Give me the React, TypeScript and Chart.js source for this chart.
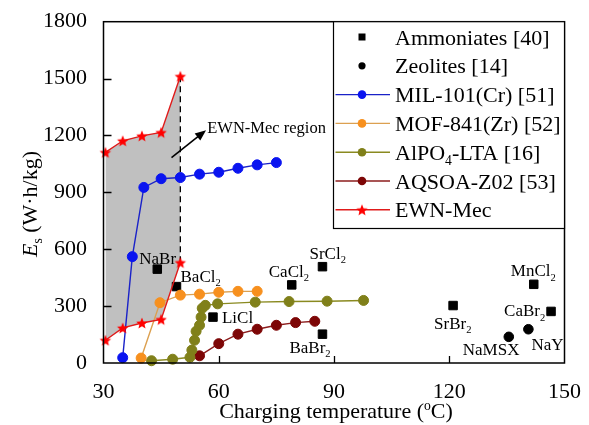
import React, { useEffect, useRef } from 'react';
import { Chart, registerables } from 'chart.js';

Chart.register(...registerables);

// ---- data ----
const xTicks = [30, 60, 90, 120, 150];
const yTicks = [0, 300, 600, 900, 1200, 1500, 1800];

const ammoniaNames = ['NaBr', 'BaCl_2', 'LiCl', 'CaCl_2', 'SrCl_2', 'BaBr_2', 'SrBr_2', 'MnCl_2', 'CaBr_2'];
const ammoniaTemp = [44, 49, 58.5, 79, 87, 87, 121, 142, 146.5];
const ammoniaEs = [495, 403, 242, 412, 508, 152, 303, 415, 272];

const zeoliteNames = ['NaMSX', 'NaY'];
const zeoliteTemp = [135.5, 140.6];
const zeoliteEs = [138, 178];

const milTemp = [35, 37.5, 40.5, 45, 50, 55, 60, 65, 70, 75];
const milEs = [28, 561, 926, 972, 978, 996, 1006, 1027, 1045, 1057];

const mofTemp = [39.8, 44.7, 50, 55, 60, 65, 70];
const mofEs = [26, 318, 358, 363, 373, 378, 378];

const alpoTemp = [42.5, 48, 52.5, 53, 53.7, 54.1, 55, 55.4, 55.7, 56.5, 59.7, 69.5, 78.3, 88.2, 97.7];
const alpoEs = [12, 20, 30, 68, 120, 167, 199, 242, 289, 304, 312, 321, 324, 326, 330];

const aqsoaTemp = [55, 60, 65, 70, 75, 80, 85];
const aqsoaEs = [38, 102, 152, 178, 199, 213, 220];

const ewnTemp = [30.5, 35, 40, 45, 50];
const ewnUpper = [1111, 1172, 1198, 1216, 1512];
const ewnLower = [120, 185, 211, 230, 530];

const legendLabels = [
  'Ammoniates [40]',
  'Zeolites [14]',
  'MIL-101(Cr) [51]',
  'MOF-841(Zr) [52]',
  'AlPO_4-LTA [16]',
  'AQSOA-Z02 [53]',
  'EWN-Mec',
];

const regionNote = 'EWN-Mec region';
const regionArrowFrom = { x: 47.7, y: 1083 };
const regionArrowTo = { x: 56.7, y: 1228 };
const regionNoteAt = { x: 57, y: 1212 };

const xTitle = 'Charging temperature (^oC)';

// ---- styles ----
const FAMILY = '"Liberation Serif", "Times New Roman", Times, serif';
const BLUE_PT = '#0a14f0';
const BLUE_LN = '#1a22c8';
const ORANGE_PT = '#f7901e';
const ORANGE_LN = '#dca050';
const OLIVE_PT = '#80801a';
const OLIVE_LN = '#8a8a20';
const MAROON_PT = '#7d0606';
const MAROON_LN = '#8c1c1c';
const RED_PT = '#ff0000';
const RED_LN = '#e01a1a';
const REGION_FILL = '#c0c0c0';

// label placement: [left offset, baseline offset] in px from the marker
const labelOffsets: Record<string, [number, number]> = {
  NaBr: [-18, -5],
  BaCl_2: [4, -5],
  LiCl: [9, 6],
  CaCl_2: [-23, -8],
  SrCl_2: [-13, -8],
  BaBr_2: [-33, 19],
  SrBr_2: [-19, 23],
  MnCl_2: [-23, -8],
  CaBr_2: [-47, 5],
  NaMSX: [-46, 18],
  NaY: [3, 21],
};

type Seg = { t: string; sub?: boolean; sup?: boolean; italic?: boolean };

function parseRich(s: string): Seg[] {
  const out: Seg[] = [];
  let buf = '';
  for (let i = 0; i < s.length; i++) {
    const c = s[i];
    if ((c === '_' || c === '^') && i + 1 < s.length) {
      if (buf) {
        out.push({ t: buf });
        buf = '';
      }
      out.push({ t: s[i + 1], sub: c === '_', sup: c === '^' });
      i++;
    } else {
      buf += c;
    }
  }
  if (buf) out.push({ t: buf });
  return out;
}

function segFont(seg: Seg, size: number) {
  const s = seg.sub || seg.sup ? size * 0.62 : size;
  return `${seg.italic ? 'italic ' : ''}${s}px ${FAMILY}`;
}

function richWidth(ctx: CanvasRenderingContext2D, segs: Seg[], size: number) {
  let w = 0;
  for (const seg of segs) {
    ctx.font = segFont(seg, size);
    w += ctx.measureText(seg.t).width;
  }
  return w;
}

function drawRich(
  ctx: CanvasRenderingContext2D,
  segs: Seg[],
  x: number,
  y: number,
  size: number,
  align: 'left' | 'center' | 'right' = 'left'
) {
  ctx.save();
  ctx.textBaseline = 'alphabetic';
  ctx.textAlign = 'left';
  ctx.fillStyle = '#000';
  const w = richWidth(ctx, segs, size);
  let cx = align === 'center' ? x - w / 2 : align === 'right' ? x - w : x;
  for (const seg of segs) {
    ctx.font = segFont(seg, size);
    const dy = seg.sub ? size * 0.25 : seg.sup ? -size * 0.38 : 0;
    ctx.fillText(seg.t, cx, y + dy);
    cx += ctx.measureText(seg.t).width;
  }
  ctx.restore();
}

function makeStar(r: number, color: string) {
  const c = document.createElement('canvas');
  const size = Math.ceil(r * 2 + 2);
  c.width = size;
  c.height = size;
  const g = c.getContext('2d')!;
  g.translate(size / 2, size / 2 + 0.6);
  g.beginPath();
  for (let i = 0; i < 10; i++) {
    const rad = i % 2 === 0 ? r : r * 0.45;
    const a = -Math.PI / 2 + (i * Math.PI) / 5;
    const px = rad * Math.cos(a);
    const py = rad * Math.sin(a);
    if (i === 0) g.moveTo(px, py);
    else g.lineTo(px, py);
  }
  g.closePath();
  g.fillStyle = color;
  g.fill();
  return c;
}

const zip = (xs: number[], ys: number[]) => xs.map((x, i) => ({ x, y: ys[i] }));

export default function App() {
  const ref = useRef<HTMLCanvasElement | null>(null);

  useEffect(() => {
    const canvas = ref.current;
    if (!canvas) return;
    const star = makeStar(6, RED_PT);

    const series = (data: { x: number; y: number }[], line: string, pt: string, order: number, extra: any = {}) => ({
      data,
      borderColor: line,
      backgroundColor: pt,
      pointBackgroundColor: pt,
      pointBorderColor: pt,
      pointBorderWidth: 1,
      pointRadius: 5,
      borderWidth: 1.4,
      tension: 0,
      fill: false,
      clip: false,
      order,
      ...extra,
    });

    const decorations = {
      id: 'decorations',
      beforeDatasetsDraw(chart: any) {
        const { ctx, scales } = chart;
        const x = scales.x;
        const y = scales.y;
        // dashed right edge of the EWN-Mec region
        const px = x.getPixelForValue(ewnTemp[ewnTemp.length - 1]);
        ctx.save();
        ctx.strokeStyle = '#000';
        ctx.lineWidth = 1.3;
        ctx.setLineDash([6, 4]);
        ctx.beginPath();
        ctx.moveTo(px, y.getPixelForValue(ewnUpper[ewnUpper.length - 1]));
        ctx.lineTo(px, y.getPixelForValue(ewnLower[ewnLower.length - 1]));
        ctx.stroke();
        ctx.restore();
      },
      afterDatasetsDraw(chart: any) {
        const { ctx, scales, chartArea } = chart;
        const x = scales.x;
        const y = scales.y;

        // point names
        const put = (dsIndex: number, names: string[]) => {
          const meta = chart.getDatasetMeta(dsIndex);
          names.forEach((name, i) => {
            const el = meta.data[i];
            const off = labelOffsets[name] || [6, -6];
            drawRich(ctx, parseRich(name), el.x + off[0], el.y + off[1], 17, 'left');
          });
        };
        put(6, ammoniaNames);
        put(7, zeoliteNames);

        // region arrow and note
        const ax0 = x.getPixelForValue(regionArrowFrom.x);
        const ay0 = y.getPixelForValue(regionArrowFrom.y);
        const ax1 = x.getPixelForValue(regionArrowTo.x);
        const ay1 = y.getPixelForValue(regionArrowTo.y);
        const ang = Math.atan2(ay1 - ay0, ax1 - ax0);
        const headL = 11;
        const headW = 4.5;
        ctx.save();
        ctx.strokeStyle = '#000';
        ctx.fillStyle = '#000';
        ctx.lineWidth = 1.6;
        ctx.beginPath();
        ctx.moveTo(ax0, ay0);
        ctx.lineTo(ax1 - Math.cos(ang) * headL * 0.8, ay1 - Math.sin(ang) * headL * 0.8);
        ctx.stroke();
        ctx.beginPath();
        ctx.moveTo(ax1, ay1);
        ctx.lineTo(
          ax1 - Math.cos(ang) * headL - Math.sin(ang) * headW,
          ay1 - Math.sin(ang) * headL + Math.cos(ang) * headW
        );
        ctx.lineTo(
          ax1 - Math.cos(ang) * headL + Math.sin(ang) * headW,
          ay1 - Math.sin(ang) * headL - Math.cos(ang) * headW
        );
        ctx.closePath();
        ctx.fill();
        ctx.restore();
        drawRich(
          ctx,
          parseRich(regionNote),
          x.getPixelForValue(regionNoteAt.x),
          y.getPixelForValue(regionNoteAt.y),
          16.5,
          'left'
        );

        // frame and inward ticks
        const { left, right, top, bottom } = chartArea;
        ctx.save();
        ctx.strokeStyle = '#000';
        ctx.lineWidth = 1.5;
        ctx.strokeRect(left, top, right - left, bottom - top);
        ctx.lineWidth = 1.3;
        ctx.beginPath();
        xTicks.slice(1, -1).forEach((v) => {
          const p = Math.round(x.getPixelForValue(v)) + 0.5;
          ctx.moveTo(p, bottom);
          ctx.lineTo(p, bottom - 7);
        });
        yTicks.slice(1, -1).forEach((v) => {
          const p = Math.round(y.getPixelForValue(v)) + 0.5;
          ctx.moveTo(left, p);
          ctx.lineTo(left + 8, p);
        });
        ctx.stroke();
        ctx.restore();
      },
      afterDraw(chart: any) {
        const { ctx, chartArea } = chart;
        // legend box in the upper right corner of the plot
        const bx = 333.5;
        const by = chartArea.top;
        const bw = chartArea.right - bx;
        const bh = 228.5 - by;
        ctx.save();
        ctx.fillStyle = '#fff';
        ctx.fillRect(bx, by, bw, bh);
        ctx.strokeStyle = '#000';
        ctx.lineWidth = 1.2;
        ctx.strokeRect(bx, by, bw, bh);
        const markerX = 362;
        const textX = 395;
        const rowY0 = 37;
        const rowStep = 28.8;
        const styles: { line?: string; pt: string; kind: 'rect' | 'circle' | 'star' }[] = [
          { pt: '#000', kind: 'rect' },
          { pt: '#000', kind: 'circle' },
          { line: BLUE_LN, pt: BLUE_PT, kind: 'circle' },
          { line: ORANGE_LN, pt: ORANGE_PT, kind: 'circle' },
          { line: OLIVE_LN, pt: OLIVE_PT, kind: 'circle' },
          { line: MAROON_LN, pt: MAROON_PT, kind: 'circle' },
          { line: RED_LN, pt: RED_PT, kind: 'star' },
        ];
        legendLabels.forEach((label, i) => {
          const cy = rowY0 + i * rowStep;
          const st = styles[i];
          if (st.line) {
            ctx.strokeStyle = st.line;
            ctx.lineWidth = 1.4;
            ctx.beginPath();
            ctx.moveTo(bx + 2, cy);
            ctx.lineTo(390, cy);
            ctx.stroke();
          }
          ctx.fillStyle = st.pt;
          if (st.kind === 'rect') {
            ctx.fillRect(markerX - 3.5, cy - 3.5, 7, 7);
          } else if (st.kind === 'circle') {
            ctx.beginPath();
            ctx.arc(markerX, cy, st.line ? 4.3 : 3.6, 0, Math.PI * 2);
            ctx.fill();
          } else {
            ctx.drawImage(star, markerX - star.width / 2, cy - star.height / 2);
          }
          drawRich(ctx, parseRich(label), textX, cy + 7.5, 22, 'left');
        });
        ctx.restore();

        // axis titles
        drawRich(ctx, parseRich(xTitle), (chartArea.left + chartArea.right) / 2 + 2, 418, 22, 'center');
        ctx.save();
        ctx.translate(36.7, 204);
        ctx.rotate(-Math.PI / 2);
        drawRich(
          ctx,
          [{ t: 'E', italic: true }, { t: 's', sub: true }, { t: ' (W\u00b7h/kg)' }],
          0,
          0,
          22,
          'center'
        );
        ctx.restore();
      },
    };

    const tickFont = { family: FAMILY, size: 22 };

    const chart = new Chart(canvas, {
      type: 'line',
      data: {
        datasets: [
          series(zip(ewnTemp, ewnUpper), RED_LN, RED_PT, 0, {
            pointStyle: star,
            fill: '+1',
            backgroundColor: REGION_FILL,
          }),
          series(zip(ewnTemp, ewnLower), RED_LN, RED_PT, 0, { pointStyle: star }),
          series(zip(milTemp, milEs), BLUE_LN, BLUE_PT, 1),
          series(zip(mofTemp, mofEs), ORANGE_LN, ORANGE_PT, 2),
          series(zip(alpoTemp, alpoEs), OLIVE_LN, OLIVE_PT, 3),
          series(zip(aqsoaTemp, aqsoaEs), MAROON_LN, MAROON_PT, 4),
          series(zip(ammoniaTemp, ammoniaEs), '#000', '#000', 5, {
            showLine: false,
            pointStyle: 'rect',
            pointRadius: 6,
          }),
          series(zip(zeoliteTemp, zeoliteEs), '#000', '#000', 6, {
            showLine: false,
            pointStyle: 'circle',
            pointRadius: 4.8,
          }),
        ],
      },
      options: {
        responsive: false,
        animation: false,
        devicePixelRatio: 1,
        events: [],
        layout: { padding: { top: 19, right: 22, left: 0, bottom: 0 } },
        plugins: {
          legend: { display: false },
          tooltip: { enabled: false },
          filler: { drawTime: 'beforeDatasetsDraw' },
        } as any,
        scales: {
          x: {
            type: 'linear',
            min: xTicks[0],
            max: xTicks[xTicks.length - 1],
            afterBuildTicks: (s: any) => {
              s.ticks = xTicks.map((v) => ({ value: v }));
            },
            afterFit: (s: any) => {
              s.height = 62;
            },
            ticks: {
              font: tickFont,
              color: '#000',
              padding: 8,
              maxRotation: 0,
              autoSkip: false,
              callback: (v: any) => String(v),
            },
            grid: { display: false },
            border: { display: false },
          },
          y: {
            type: 'linear',
            min: yTicks[0],
            max: yTicks[yTicks.length - 1],
            afterBuildTicks: (s: any) => {
              s.ticks = yTicks.map((v) => ({ value: v }));
            },
            afterFit: (s: any) => {
              s.width = 103.5;
            },
            ticks: {
              font: tickFont,
              color: '#000',
              padding: 8.5,
              autoSkip: false,
              callback: (v: any) => String(v),
            },
            grid: { display: false },
            border: { display: false },
          },
        },
      } as any,
      plugins: [decorations as any],
    });

    return () => chart.destroy();
  }, []);

  return (
    <div style={{ position: 'absolute', left: 0, top: 0, width: 589, height: 425, background: '#fff' }}>
      <canvas ref={ref} width={589} height={425} style={{ display: 'block' }} />
    </div>
  );
}
